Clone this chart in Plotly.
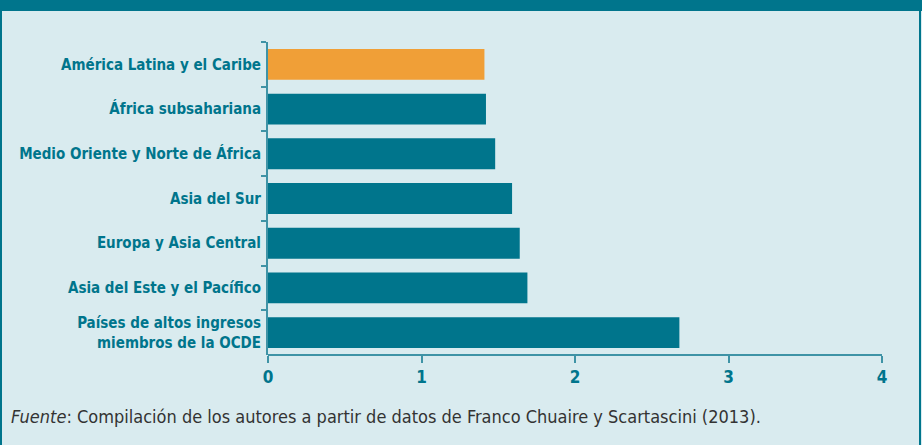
import plotly.graph_objects as go

categories = [
    "América Latina y el Caribe",
    "África subsahariana",
    "Medio Oriente y Norte de África",
    "Asia del Sur",
    "Europa y Asia Central",
    "Asia del Este y el Pacífico",
    "Países de altos ingresos<br>miembros de la OCDE",
]
values = [1.41, 1.42, 1.48, 1.59, 1.64, 1.69, 2.68]
highlight = "América Latina y el Caribe"
x_ticks = [0, 1, 2, 3, 4]

TEAL = "#00758c"
ORANGE = "#f09f37"
BG = "#d9ebef"
AXIS = "#3f93a6"
FONT = "DejaVu Sans Condensed, Roboto, sans-serif"

colors = [ORANGE if c == highlight else TEAL for c in categories]

fig = go.Figure(go.Bar(
    x=values, y=categories, orientation="h",
    marker=dict(color=colors, line=dict(width=0)),
    hoverinfo="skip",
))

fig.update_layout(
    width=922, height=445,
    margin=dict(l=268, r=40, t=42, b=90, autoexpand=False),
    paper_bgcolor=BG, plot_bgcolor=BG,
    bargap=0.31,
    showlegend=False,
    font=dict(family=FONT, color=TEAL),
)
fig.update_yaxes(
    categoryorder="array", categoryarray=categories, autorange="reversed",
    showline=True, linecolor=AXIS, linewidth=2,
    ticks="outside", ticklen=5, tickcolor=AXIS, tickwidth=2,
    tickson="boundaries", showgrid=False, zeroline=False,
    tickfont=dict(family=FONT, size=15, color=TEAL, weight="bold"),
    ticklabelstandoff=2, automargin=False,
)
fig.update_xaxes(
    range=[0, 4], tickvals=x_ticks, ticktext=[str(t) for t in x_ticks],
    showline=False, showgrid=False, zeroline=False,
    ticks="outside", ticklen=7, tickcolor=AXIS, tickwidth=2,
    tickfont=dict(family=FONT, size=17, color=TEAL, weight="bold"),
    automargin=False,
)
# x axis line (extends slightly left of the y axis as in the reference)
fig.add_shape(type="line", xref="x", yref="paper", x0=-0.04, x1=4, y0=0, y1=0,
              line=dict(color=AXIS, width=2))
# frame: top band and side borders
fig.add_shape(type="rect", xref="paper", yref="paper", x0=-0.5, x1=1.5,
              y0=1 + 31/313, y1=1 + 60/313, fillcolor=TEAL, line=dict(width=0), layer="above")
fig.add_shape(type="line", xref="paper", yref="paper", x0=-267/614, x1=-267/614,
              y0=-1, y1=2, line=dict(color=TEAL, width=2))
fig.add_shape(type="line", xref="paper", yref="paper", x0=1 + 38/614, x1=1 + 38/614,
              y0=-1, y1=2, line=dict(color=TEAL, width=2))

fig.add_annotation(
    xref="paper", yref="paper", x=-259/614, y=-61/313, xanchor="left", yanchor="middle",
    text="<i>Fuente</i>: Compilación de los autores a partir de datos de Franco Chuaire y Scartascini (2013).",
    showarrow=False, font=dict(family=FONT, size=18, color="#333333"),
)

fig.write_html("out.html", config={"displayModeBar": False},
               post_script="document.body.style.margin='0';")
